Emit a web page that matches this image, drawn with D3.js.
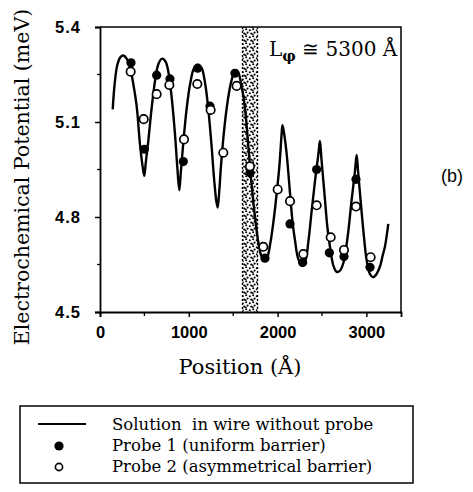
<!DOCTYPE html>
<html>
<head>
<meta charset="utf-8">
<script src="https://cdn.jsdelivr.net/npm/d3@7"></script>
<style>
  body { margin: 0; background: #fff; }
  svg { display: block; }
  .tick text { font-family: "Liberation Sans", Arial, sans-serif; font-weight: bold; font-size: 16.5px; }
  .serif { font-family: "DejaVu Serif", "Liberation Serif", serif; }
  .lab { white-space: pre; }
</style>
</head>
<body>
<svg width="473" height="492"></svg>
<script>
// solution in wire without probe (position in Å, potential in meV)
var lineX = [143, 165, 195, 230, 265, 300, 340, 375, 413, 450, 480, 499, 515, 544, 580, 620, 660, 700, 740, 775,
  810, 845, 870, 893, 910, 940, 975, 1015, 1060, 1105, 1145, 1185, 1220, 1255, 1285, 1310, 1325, 1340, 1365, 1400,
  1440, 1480, 1520, 1550, 1590, 1630, 1660, 1689, 1730, 1783, 1820, 1850, 1880, 1920, 1960, 1990, 2020, 2045, 2055,
  2070, 2102, 2140, 2170, 2196, 2230, 2271, 2310, 2350, 2384, 2420, 2460, 2477, 2495, 2534, 2560, 2590, 2630, 2665,
  2700, 2740, 2790, 2834, 2870, 2890, 2905, 2928, 2965, 3003, 3040, 3078, 3115, 3153, 3185, 3209, 3247];
var lineV = [5.14, 5.22, 5.28, 5.305, 5.31, 5.30, 5.27, 5.22, 5.15, 5.03, 4.96, 4.93, 4.97, 5.04, 5.14, 5.23, 5.285, 5.30, 5.29, 5.25,
  5.17, 5.06, 4.96, 4.885, 4.94, 5.04, 5.14, 5.22, 5.27, 5.28, 5.27, 5.22, 5.14, 5.03, 4.92, 4.85, 4.83, 4.87, 4.97, 5.08,
  5.17, 5.23, 5.26, 5.26, 5.22, 5.15, 5.06, 4.96, 4.84, 4.72, 4.675, 4.664, 4.67, 4.72, 4.80, 4.875, 4.96, 5.06, 5.09,
  5.07, 5.00, 4.875, 4.78, 4.727, 4.67, 4.648, 4.66, 4.73, 4.82, 4.91, 5.00, 5.04, 4.98, 4.854, 4.77, 4.706, 4.645, 4.627,
  4.63, 4.654, 4.74, 4.854, 4.94, 4.996, 4.95, 4.875, 4.76, 4.664, 4.62, 4.61, 4.62, 4.643, 4.68, 4.706, 4.778];

// probe 1 (uniform barrier)
var probe1X = [349, 499, 638, 788, 938, 1100, 1239, 1520, 1689, 1858, 2140, 2282, 2440, 2583, 2748, 2883, 3041];
var probe1V = [5.287, 5.014, 5.248, 5.236, 4.975, 5.27, 5.15, 5.254, 4.94, 4.67, 4.778, 4.656, 4.95, 4.687, 4.675, 4.919, 4.641];

// probe 2 (asymmetrical barrier)
var probe2X = [345, 492, 638, 781, 946, 1096, 1246, 1389, 1539, 1689, 1839, 2001, 2140, 2290, 2440, 2598, 2748, 2883, 3048];
var probe2V = [5.259, 5.109, 5.188, 5.217, 5.045, 5.22, 5.138, 5.003, 5.214, 4.96, 4.706, 4.887, 4.85, 4.683, 4.837, 4.736, 4.696, 4.833, 4.673];

// probe region and axis ticks
var barrier = [1605, 1774];
var xTicks = [0, 1000, 2000, 3000];
var xMinor = [500, 1500, 2500];
var yTicks = [4.5, 4.8, 5.1, 5.4];
var yMinor = [4.65, 4.95, 5.25];

var legendLabels = ["Solution  in wire without probe", "Probe 1 (uniform barrier)", "Probe 2 (asymmetrical barrier)"];

var svg = d3.select("svg");

var x = d3.scaleLinear().domain([0, 3390]).range([100, 401]),
    y = d3.scaleLinear().domain([4.5, 5.4]).range([312, 27]);

// stipple pattern for the barrier
var defs = svg.append("defs");
var pat = defs.append("pattern")
    .attr("id", "stipple")
    .attr("patternUnits", "userSpaceOnUse")
    .attr("width", 7).attr("height", 7);
[[1.2, 1.2], [4.8, 2.2], [2.6, 4.6], [6.2, 5.6], [0.6, 6.4]].forEach(function (p) {
    pat.append("circle").attr("cx", p[0]).attr("cy", p[1]).attr("r", 1.05).attr("fill", "#000");
});

svg.append("rect")
    .attr("x", x(barrier[0]))
    .attr("y", y(5.4))
    .attr("width", x(barrier[1]) - x(barrier[0]))
    .attr("height", y(4.5) - y(5.4))
    .attr("fill", "url(#stipple)");

barrier.forEach(function (b) {
    svg.append("line")
        .attr("x1", x(b)).attr("x2", x(b))
        .attr("y1", y(5.4)).attr("y2", y(4.5))
        .attr("stroke", "#000").attr("stroke-width", 1.4)
        .attr("stroke-dasharray", "2,2");
});

// frame
svg.append("path")
    .attr("d", "M" + x(0) + "," + y(5.4) + "H" + x(3390) + "V" + y(4.5))
    .attr("fill", "none").attr("stroke", "#000").attr("stroke-width", 1.5);

// axes
var xAxis = svg.append("g")
    .attr("transform", "translate(0," + y(4.5) + ")")
    .call(d3.axisBottom(x).tickValues(xTicks).tickSize(5).tickPadding(9).tickFormat(d3.format("d")));
xAxis.append("g").selectAll("line")
    .data(xMinor)
    .enter().append("line")
    .attr("x1", function (d) { return x(d); }).attr("x2", function (d) { return x(d); })
    .attr("y1", 0).attr("y2", 4)
    .attr("stroke", "#000").attr("stroke-width", 1.3);

var yAxis = svg.append("g")
    .attr("transform", "translate(" + x(0) + ",0)")
    .call(d3.axisLeft(y).tickValues(yTicks).tickSize(5).tickPadding(14).tickFormat(d3.format(".1f")));
yAxis.append("g").selectAll("line")
    .data(yMinor)
    .enter().append("line")
    .attr("x1", -3).attr("x2", 0)
    .attr("y1", function (d) { return y(d); }).attr("y2", function (d) { return y(d); })
    .attr("stroke", "#000").attr("stroke-width", 1.3);
yAxis.selectAll(".tick text").attr("letter-spacing", 1);

[xAxis, yAxis].forEach(function (a) {
    a.select(".domain").attr("stroke-width", 1.8);
    a.selectAll(".tick line").attr("stroke-width", 1.5);
});

// curve
var line = d3.line()
    .x(function (d) { return x(d[0]); })
    .y(function (d) { return y(d[1]); })
    .curve(d3.curveCatmullRom.alpha(0.5));

svg.append("path")
    .datum(lineX.map(function (d, i) { return [d, lineV[i]]; }))
    .attr("d", line)
    .attr("fill", "none")
    .attr("stroke", "#000")
    .attr("stroke-width", 2.4);

// probe points
svg.append("g").selectAll("circle")
    .data(probe1X.map(function (d, i) { return [d, probe1V[i]]; }))
    .enter().append("circle")
    .attr("cx", function (d) { return x(d[0]); })
    .attr("cy", function (d) { return y(d[1]); })
    .attr("r", 4.6)
    .attr("fill", "#000");

svg.append("g").selectAll("circle")
    .data(probe2X.map(function (d, i) { return [d, probe2V[i]]; }))
    .enter().append("circle")
    .attr("cx", function (d) { return x(d[0]); })
    .attr("cy", function (d) { return y(d[1]); })
    .attr("r", 4.2)
    .attr("fill", "#fff")
    .attr("stroke", "#000")
    .attr("stroke-width", 1.7);

// annotation
var ann = svg.append("text")
    .attr("class", "serif")
    .attr("x", 269).attr("y", 56)
    .attr("font-size", 20);
ann.append("tspan").text("L");
ann.append("tspan").attr("dy", 5).attr("font-size", 15).attr("font-weight", "bold").text("φ");
ann.append("tspan").attr("dy", -5).text(" ≅ 5300 Å");

// axis titles
svg.append("text")
    .attr("class", "serif")
    .attr("transform", "translate(29,177) rotate(-90)")
    .attr("text-anchor", "middle")
    .attr("font-size", 20.5)
    .text("Electrochemical Potential (meV)");

svg.append("text")
    .attr("class", "serif")
    .attr("x", 240).attr("y", 374)
    .attr("text-anchor", "middle")
    .attr("font-size", 21)
    .text("Position (Å)");

svg.append("text")
    .attr("x", 452).attr("y", 182)
    .attr("text-anchor", "middle")
    .attr("font-family", "'Liberation Sans', Arial, sans-serif")
    .attr("font-size", 18)
    .text("(b)");

// legend
var lg = svg.append("g");
lg.append("rect")
    .attr("x", 20).attr("y", 406).attr("width", 393).attr("height", 77)
    .attr("fill", "none").attr("stroke", "#000").attr("stroke-width", 1.5);
lg.append("line")
    .attr("x1", 38).attr("x2", 86).attr("y1", 424).attr("y2", 424)
    .attr("stroke", "#000").attr("stroke-width", 2);
lg.append("circle").attr("cx", 59).attr("cy", 446).attr("r", 4.6).attr("fill", "#000");
lg.append("circle").attr("cx", 59).attr("cy", 467).attr("r", 3.6)
    .attr("fill", "#fff").attr("stroke", "#000").attr("stroke-width", 1.6);
lg.selectAll("text.lab")
    .data(legendLabels)
    .enter().append("text")
    .attr("class", "serif lab")
    .attr("x", 112)
    .attr("y", function (d, i) { return 430 + i * 21; })
    .attr("font-size", 16.5)
    .attr("xml:space", "preserve")
    .text(function (d) { return d; });
</script>
</body>
</html>
